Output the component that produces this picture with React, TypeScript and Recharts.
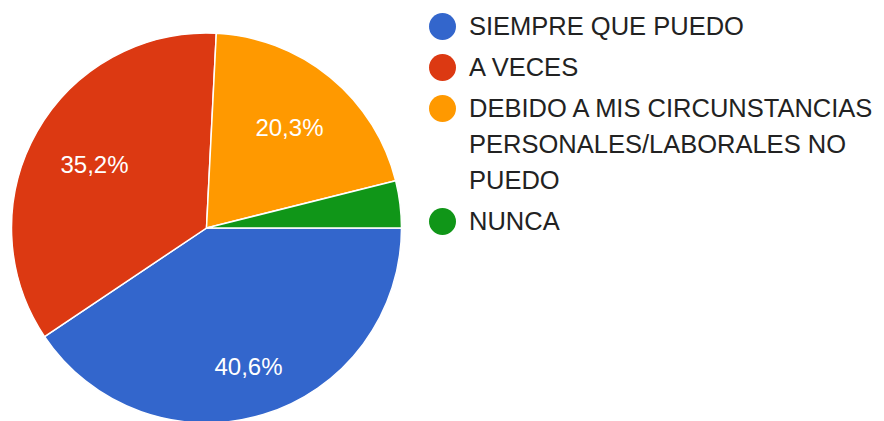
import { PieChart, Pie, Cell } from 'recharts';

const categories = [
  'SIEMPRE QUE PUEDO',
  'A VECES',
  'DEBIDO A MIS CIRCUNSTANCIAS PERSONALES/LABORALES NO PUEDO',
  'NUNCA',
];
const shares = [40.6, 35.2, 20.3, 3.9];
const colors = ['#3366cc', '#dc3912', '#ff9900', '#109618'];

// google places labels at slightly different depths per slice
const labelDepth = [0.74, 0.66, 0.67, 0.7];

const data = categories.map((name, i) => ({ name, value: shares[i] }));

const FONT = 'Arial, "Liberation Sans", sans-serif';
const RADIAN = Math.PI / 180;

function renderLabel(props: any) {
  const { cx, cy, midAngle, outerRadius, percent, index, value } = props;
  if (percent < 0.05) return null;
  const r = outerRadius * labelDepth[index];
  const x = cx + r * Math.cos(-midAngle * RADIAN);
  const y = cy + r * Math.sin(-midAngle * RADIAN);
  return (
    <text
      x={x}
      y={y}
      fill="#ffffff"
      textAnchor="middle"
      dominantBaseline="central"
      style={{ fontFamily: FONT, fontSize: 24 }}
    >
      {value.toFixed(1).replace('.', ',') + '%'}
    </text>
  );
}

function LegendList() {
  return (
    <div
      style={{
        position: 'absolute',
        left: 429,
        top: 8,
        width: 455,
        fontFamily: FONT,
        fontSize: 25.5,
        color: '#222222',
      }}
    >
      {categories.map((name, i) => (
        <div key={name} style={{ display: 'flex', alignItems: 'flex-start', marginBottom: 5 }}>
          <span
            style={{
              width: 27,
              height: 27,
              borderRadius: '50%',
              background: colors[i],
              marginTop: 4.5,
              marginRight: 13,
              flex: 'none',
            }}
          />
          <span style={{ lineHeight: '36px', width: 415 }}>{name}</span>
        </div>
      ))}
    </div>
  );
}

export default function App() {
  return (
    <div style={{ position: 'absolute', left: 0, top: 0, width: 884, height: 421, background: '#fff', overflow: 'hidden' }}>
      <PieChart width={884} height={421} margin={{ top: 0, right: 0, bottom: 0, left: 0 }}>
        <Pie
          data={data}
          dataKey="value"
          nameKey="name"
          cx={206.5}
          cy={228}
          outerRadius={195}
          startAngle={0}
          endAngle={-360}
          stroke="#ffffff"
          strokeWidth={1.5}
          label={renderLabel}
          labelLine={false}
          isAnimationActive={false}
        >
          {data.map((d, i) => (
            <Cell key={d.name} fill={colors[i]} />
          ))}
        </Pie>
      </PieChart>
      <LegendList />
    </div>
  );
}
